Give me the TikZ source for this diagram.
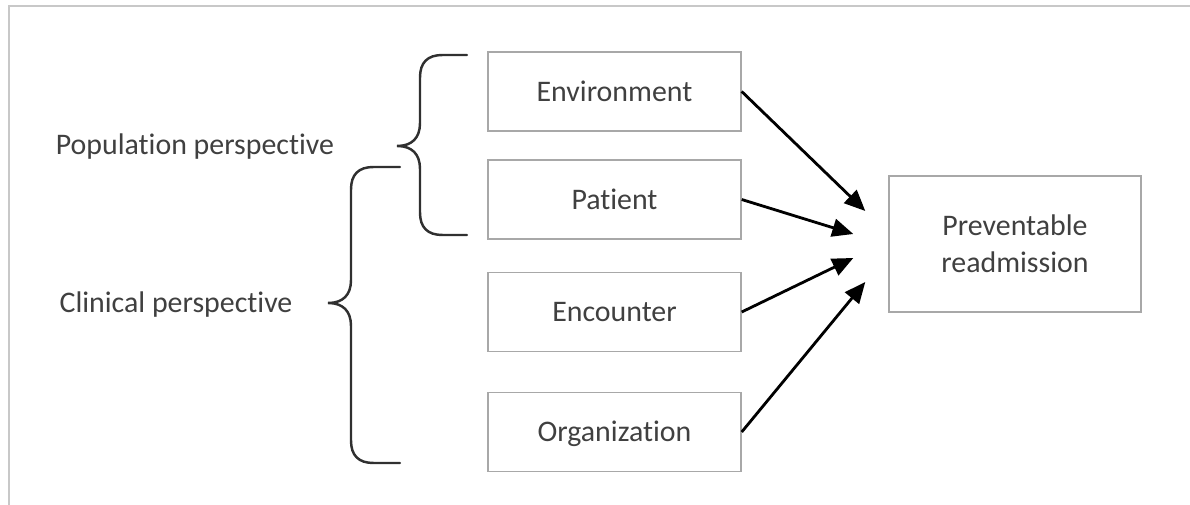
\documentclass[tikz,border=0pt]{standalone}
\usepackage{fontspec}
\setmainfont{Carlito}[Ligatures={TeX,CommonOff}]
\usepackage{tikz}
\usepackage{xcolor}
\usetikzlibrary{arrows.meta}
\newcommand{\tI}{t\kern0pt i}

\begin{document}
\begin{tikzpicture}[factor/.style={draw=boxgray,line width=0.8pt,minimum width=5.06cm,minimum height=1.58cm,text height=10.9pt,text depth=0pt,text=ink},
  outcome/.style={draw=boxgray,line width=0.8pt,minimum width=5.04cm,minimum height=2.72cm,align=center,text=ink},
  persp/.style={text height=10.9pt,text depth=0pt,text=ink},
  curly/.style={draw=bracegray,line width=1.4pt,line cap=round},
  push/.style={line width=1.6pt,-{Triangle[length=0.42cm,width=0.36cm]}},
  font=\fontsize{17}{20.8}\selectfont]
\definecolor{ink}{HTML}{404040}
\definecolor{boxgray}{HTML}{A8A8A8}
\definecolor{bracegray}{HTML}{303030}
\definecolor{rule}{HTML}{C8C8C8}
\useasboundingbox (0,0) rectangle (23.8,10.1);
\draw[rule,line width=1.2pt] (0.174,0) -- (0.174,9.974) -- (23.8,9.974);
% factor boxes
  \foreach \nm/\txt/\y in {env/Environment/8.27,pat/Pa\tI ent/6.11,enc/Encounter/3.86,org/Organiza\tI on/1.46}
  {  \node [factor] (\nm) at (12.29,\y) {\txt};}
\node [outcome] (rdm) at (20.30,5.22) {Preventable\\readmission};
\node [persp] (pop) at (3.9,7.21) {Popula\tI on perspec\tI ve};
\node [persp] (cli) at (3.52,4.04) {Clinical perspec\tI ve};
% braces
  \foreach \xe/\xv/\yt/\ym/\yb in {9.34/8.4/9.0/7.18/5.4,8.0/7.02/6.76/4.04/0.84}
  {  \draw [curly] (\xe,\yt) -- ({\xv+0.45},\yt) .. controls ({\xv+0.15},\yt) and (\xv,{\yt-0.15}) .. (\xv,{\yt-0.45})
       -- (\xv,{\ym+0.46}) .. controls (\xv,{\ym+0.16}) and ({\xv-0.16},\ym) .. ({\xv-0.46},\ym)
       .. controls ({\xv-0.16},\ym) and (\xv,{\ym-0.16}) .. (\xv,{\ym-0.46})
       -- (\xv,{\yb+0.45}) .. controls (\xv,{\yb+0.15}) and ({\xv+0.15},\yb) .. ({\xv+0.45},\yb) -- (\xe,\yb);}
% arrow ends
\coordinate (in1) at ([shift={(-0.46,0.66)}]rdm.west);
\coordinate (in2) at ([shift={(-0.70,0.20)}]rdm.west);
\coordinate (in3) at ([shift={(-0.70,-0.28)}]rdm.west);
\coordinate (in4) at ([shift={(-0.46,-0.76)}]rdm.west);
  \foreach \src/\dst in {env/in1,pat/in2,enc/in3,org/in4}
  {  \draw [push] (\src.east) -- (\dst);}
\end{tikzpicture}
\end{document}
